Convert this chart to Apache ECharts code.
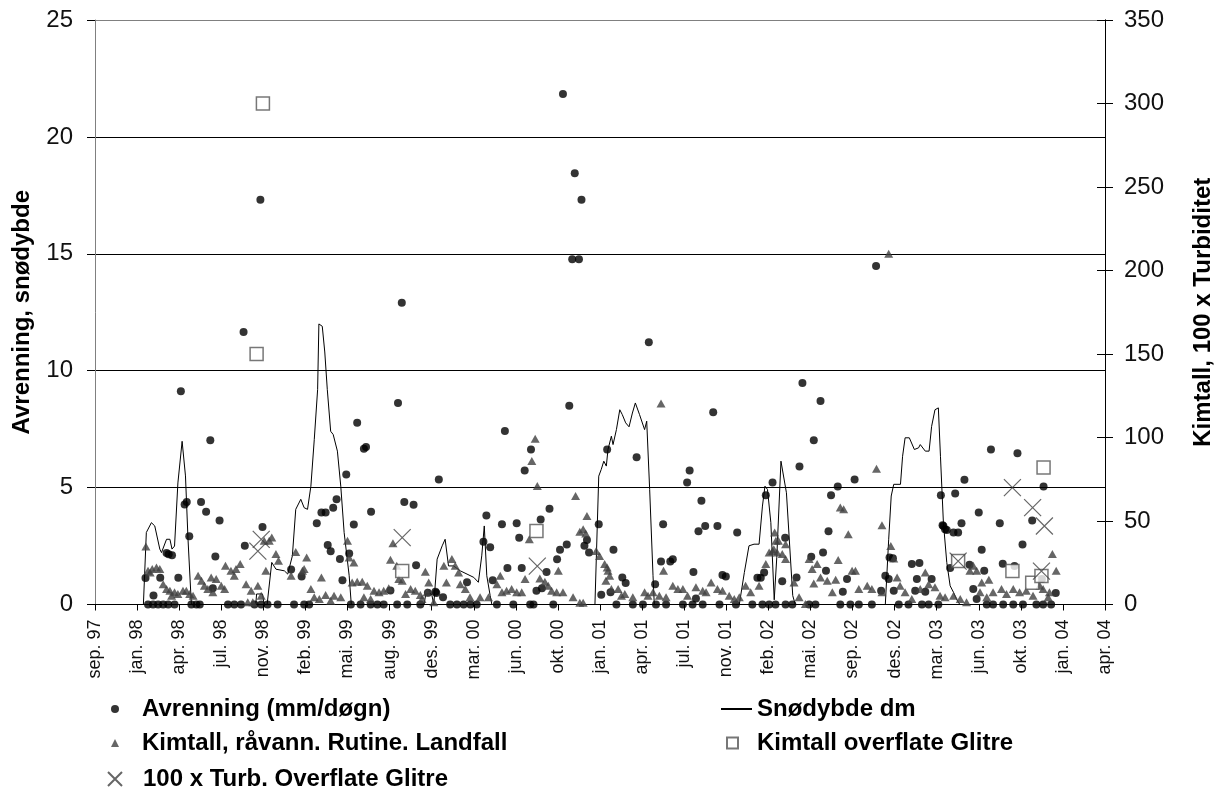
<!DOCTYPE html>
<html>
<head>
<meta charset="utf-8">
<script src="https://cdn.jsdelivr.net/npm/echarts@6/dist/echarts.min.js"></script>
<style>html,body{margin:0;padding:0;background:#fff}#c{width:1223px;height:792px}</style>
</head>
<body>
<div id="c"></div>
<script>
// x values are days since 1997-09-28 (axis start, Excel date axis with 100-day major unit)
const startDate = Date.UTC(1997, 8, 28);
const monthNames = ['jan', 'feb', 'mar', 'apr', 'mai', 'jun', 'jul', 'aug', 'sep', 'okt', 'nov', 'des'];
const xMax = 2400, xStep = 100;
const leftMax = 25, leftStep = 5;
const rightMax = 350, rightStep = 50;

const leftTitle = 'Avrenning, snødybde';
const rightTitle = 'Kimtall, 100 x Turbiditet';
const names = ['Avrenning (mm/døgn)', 'Snødybde dm', 'Kimtall, råvann. Rutine. Landfall', 'Kimtall overflate Glitre', '100 x Turb. Overflate Glitre'];

// Avrenning (mm/døgn) – left axis
const avrenning = [
[120,1.13],[126,0],[138,0],[139,0.38],[150,0],[155,1.14],[162,0],[170,2.2],[174,0],[175,2.15],[183,2.11],[189,0],[198,1.14],[204,9.12],[213,4.28],[218,4.38],[224,2.92],[229,0],[241,0],[249,0],[252,4.38],[264,3.97],[274,7.02],[280,0.7],[286,2.05],[296,3.59],[316,0],[331,0],[347,0],[353,11.66],[356,2.51],[379,0],[393,17.31],[395,0],[398,3.32],[410,0],
[434,0],[466,1.5],[473,0],[491,1.2],[497,0],[509,0],[527,3.47],[538,3.93],[548,3.93],[553,2.54],[560,2.28],[566,4.14],[574,4.5],[582,1.95],[588,1.04],[597,5.56],[604,2.18],[608,0],[615,3.42],[623,7.77],[631,0],[639,6.66],[644,6.74],[655,0],[656,3.97],[671,0],[686,0],[702,0.6],[718,0],[720,8.62],[729,12.91],[735,4.38],[742,0],[757,4.27],[763,1.68],[773,0],[791,0.5],[809,0.55],[817,5.35],
[811,0.49],[827,0.31],[844,0],[860,0],[876,0],[884,0.95],[892,0],[907,0],[923,2.68],[930,3.81],[939,2.45],[945,1.04],[955,0],[967,3.43],[974,7.42],[980,1.56],[994,0],[1002,3.47],[1008,2.85],[1014,1.56],[1021,5.73],[1034,0],[1036,6.63],[1042,0],[1049,0.59],[1059,3.64],[1062,0.7],[1073,1.39],[1080,4.1],[1089,0],[1098,1.94],[1105,2.34],[1112,21.83],[1121,2.57],[1127,8.5],[1134,14.77],[1140,18.44],[1150,14.77],[1156,17.31],[1163,2.51],[1169,2.76],[1174,2.22],[1197,3.43],[1203,0.42],[1217,6.63],
[1225,0.52],[1232,2.34],[1239,0],[1253,1.16],[1261,0.92],[1278,0],[1287,6.3],[1302,0],[1316,11.22],[1331,0.87],[1333,0],[1345,1.84],[1350,3.43],[1357,0],[1367,1.84],[1373,1.94],[1397,0],[1407,5.22],[1413,5.73],[1420,0],[1422,1.39],[1428,0.26],[1434,3.13],[1441,4.44],[1444,0],[1450,3.36],[1469,8.22],[1479,3.36],[1484,0],[1491,1.26],[1499,1.2],[1523,0],[1526,3.08],[1562,0],[1574,1.14],[1582,1.14],[1586,0],[1590,1.37],[1594,4.67],[1602,0],[1610,5.22],
[1617,0],[1633,0.99],[1640,2.86],[1641,0],[1657,0],[1667,1.16],[1674,5.9],[1681,9.47],[1697,0],[1702,2.04],[1708,7.02],[1712,0],[1724,8.7],[1730,2.22],[1737,1.44],[1743,3.13],[1749,4.67],[1765,5.05],[1771,0],[1777,0.55],[1787,1.09],[1795,0],[1805,5.35],[1815,0],[1846,0],[1856,14.48],[1868,0.59],[1878,1.23],[1886,1.09],[1888,2.01],[1896,1.98],[1898,0.59],[1910,0],[1933,0],[1941,1.73],[1949,0.59],[1953,1.09],[1959,1.77],[1965,0],[1973,0.55],[1981,0],[1988,1.09],[2004,0],[2010,4.67],[2014,3.39],[2020,3.22],
[2016,3.36],[2024,3.19],[2032,1.56],[2040,3.08],[2044,4.75],[2051,3.08],[2059,3.47],[2066,5.34],[2078,1.7],[2087,0.66],[2095,0.23],[2100,3.93],[2107,2.34],[2113,1.44],[2119,0],[2129,6.63],[2134,0],[2150,3.47],[2157,1.74],[2158,0],[2182,0],[2185,1.65],[2192,6.47],[2204,2.57],[2205,0],[2227,3.59],[2237,0],[2250,1.09],[2253,0],[2254,5.05],[2272,0],[2283,0.49]
];

// Snødybde dm – left axis
const snodybde = [
[115,0],[122,3.08],[134,3.5],[142,3.36],[154,2.37],[158,2.22],[170,2.79],[178,2.79],[183,2.37],[189,2.5],[197,5.2],[207,6.98],[215,5.5],[221,2.8],[229,0],
[382,0],[384,0.45],[398,0.45],[402,0],
[409,0],[420,1.8],[430,1.51],[450,1.44],[458,1.3],[469,2.08],[477,4.07],[489,4.5],[497,4.14],[505,4.07],[513,5.06],[521,7.05],[529,9.19],[532,12.0],[540,11.9],[546,10.8],[552,9.19],[560,7.41],[566,7.27],[576,6.56],[584,5.06],[592,3.08],[604,1.23],[609,0],
[782,0],[786,0.45],[800,0.45],[805,0],
[809,0],[813,1.94],[825,2.51],[832,2.79],[840,1.65],[852,1.65],[868,1.44],[884,1.3],[900,1.16],[911,0.95],[919,2.08],[925,3.36],[931,1.23],[939,0.38],[943,0],
[1188,0],[1197,5.49],[1203,5.78],[1209,6.13],[1215,5.92],[1219,6.63],[1227,7.2],[1231,6.84],[1239,7.48],[1247,8.33],[1253,8.12],[1261,7.77],[1269,7.6],[1277,8.19],[1284,8.62],[1294,8.12],[1306,7.48],[1311,7.84],[1318,4.92],[1326,1.23],[1329,0],
[1531,0],[1543,1.37],[1554,2.51],[1566,2.58],[1578,2.58],[1586,4.21],[1592,5.06],[1598,4.92],[1606,3.5],[1614,0.2],[1620,2.0],[1630,6.13],[1643,4.78],[1658,0.38],[1664,0],
[1878,0],[1886,2.79],[1892,4.64],[1898,5.14],[1914,5.14],[1919,6.34],[1925,7.13],[1935,7.13],[1947,6.63],[1957,6.7],[1961,6.84],[1973,6.56],[1982,6.56],[1988,7.62],[1996,8.33],[2004,8.41],[2006,8.41],[2009,6.34],[2016,3.5],[2024,1.8],[2032,0.8],[2040,0.52],[2047,0.23],[2055,0]
];

// Kimtall, råvann. Rutine. Landfall – right axis
const kimtallRutine = [
[121,34.8],[126,20.2],[131,19.2],[136,21.2],[146,22.2],[154,21.2],[162,12.2],[170,9.3],[178,8.2],[182,5.3],[189,7.3],[197,6.3],[209,8.2],[217,8.2],[225,6.3],[233,5.3],[245,17.2],[253,14.2],[260,11.2],[268,9.3],[276,16.2],[280,7.3],[288,15.2],[300,11.2],[308,9.3],[310,23.2],[323,20.2],[331,17.2],[335,21.2],[345,24.2],[359,12.2],[363,1.3],[371,8.2],[375,1.3],[387,11.2],[395,5.3],[402,38.1],[406,20.2],
[414,38.1],[420,40.1],[430,30.2],[436,26.2],[466,17.2],[477,31.5],[493,20.2],[497,21.2],[503,28.2],[513,9.3],[521,4.3],[533,3.3],[538,16.2],[548,5.7],[560,2.3],[568,5.3],[584,4.3],[600,38.1],[604,28.2],[611,13.2],[615,25.2],[623,13.6],[635,13.6],[639,4.3],[647,11.2],[655,3.3],[663,8.2],[675,7.3],[686,8.2],[698,9.7],[702,26.8],[708,36.7],[717,23.2],[722,15.2],[730,14.2],[738,6.3],[750,9.3],[761,8.2],[773,5.7],[777,3.3],[785,19.6],[789,7.3],[793,13.2],[805,1.3],
[829,23.2],[835,13.2],[848,27.2],[856,23.2],[864,19.2],[868,12.2],[880,9.3],[891,4.3],[915,4.3],[935,4.3],[955,12.2],[963,17.2],[967,7.3],[978,8.2],[990,9.3],[1002,7.3],[1014,7.3],[1022,15.2],[1032,39.1],[1038,85.9],[1046,99.3],[1051,71.0],[1057,15.6],[1069,13.6],[1077,11.2],[1085,8.2],[1097,7.3],[1101,20.2],[1112,7.3],[1136,4.3],[1142,65.0],[1152,43.5],[1160,45.1],[1166,42.5],[1169,53.0],[1152,1],[1160,1],[1191,32.1],[1199,29.1],[1211,24.2],[1219,20.2],
[1214,14.2],[1217,22.2],[1223,17.2],[1227,9.3],[1243,9.3],[1251,5.3],[1259,6.3],[1278,4.3],[1306,7.3],[1314,5.3],[1326,7.3],[1341,5.3],[1345,120.3],[1351,20.2],[1357,4.3],[1373,11.2],[1385,9.3],[1397,9.3],[1408,5.3],[1428,10.3],[1444,8.2],[1452,7.3],[1464,13.2],[1479,9.3],[1491,8.2],[1507,5.3],[1519,3.3],[1531,4.3],[1546,11.2],[1558,7.3],[1578,11.2],[1594,24.2],[1602,31.2],[1610,32.1],[1615,43.1],
[1618,38.1],[1613,33.1],[1621,31.2],[1624,38.1],[1633,30.2],[1641,36.1],[1641,27.2],[1661,13.2],[1673,4.3],[1688,0.3],[1697,27.2],[1704,21.2],[1708,12.6],[1716,24.2],[1724,16.2],[1740,14.2],[1752,7.3],[1760,14.8],[1766,26.6],[1771,58.1],[1779,57.0],[1790,42.1],[1799,20.2],[1807,20.2],[1815,9.3],[1835,11.2],[1846,9.3],[1857,81.3],[1870,47.5],[1870,7.3],[1886,210],[1891,35.1],[1898,27.6],[1906,16.2],[1913,11.2],[1925,7.3],[1941,3.3],[1961,9.3],[1973,19.2],[1981,12.2],[1996,10.3],[2008,5.3],
[2020,4.3],[2040,5.3],[2056,3.3],[2071,1.3],[2079,20.2],[2087,23.2],[2095,20.2],[2103,7.3],[2107,13.2],[2119,4.3],[2124,14.8],[2134,7.3],[2154,9.3],[2166,6.3],[2182,9.3],[2197,7.3],[2213,8.2],[2229,5.3],[2245,11.2],[2253,9.3],[2265,4.3],[2268,7.3],[2275,30.2],[2284,20.2]
];

// Kimtall overflate Glitre – right axis
const kimtallGlitre = [[384,150],[399,300],[730,20],[1049,44],[2051,26],[2180,20],[2227,13],[2249,17],[2254,82]];

// 100 x Turb. Overflate Glitre – right axis
const turbGlitre = [[387,32],[395,39],[730,40],[1051,23],[2051,26],[2180,70],[2228,58],[2249,20],[2256,47]];

const FONT = 'Arial, "Liberation Sans", sans-serif';
const xPath = 'path://M0,0L10,10M10,0L0,10';

function dayLabel(v) {
  const d = new Date(startDate + v * 86400000);
  const yy = String(d.getUTCFullYear() % 100).padStart(2, '0');
  return monthNames[d.getUTCMonth()] + '. ' + yy;
}

const chart = echarts.init(document.getElementById('c'), null, { renderer: 'canvas' });

function legendAt(name, left, top, iconW, iconH, pad) {
  return {
    data: [name], left: left, top: top, orient: 'horizontal',
    itemWidth: iconW, itemHeight: iconH, padding: 0, selectedMode: false,
    textStyle: { fontFamily: FONT, fontSize: 24, fontWeight: 'bold', color: '#000', padding: [0, 0, 0, pad] }
  };
}

chart.setOption({
  animation: false,
  backgroundColor: '#fff',
  grid: { left: 95, top: 20, width: 1014, height: 584.5, containLabel: false },
  legend: [
    legendAt(names[0], 111, 697, 8, 8, 18),
    legendAt(names[1], 720, 697, 31, 2, 0),
    legendAt(names[2], 111, 731, 8, 8, 18),
    legendAt(names[3], 726, 731, 11, 11, 14),
    legendAt(names[4], 107, 767, 14, 14, 16)
  ],
  xAxis: {
    type: 'value', min: 0, max: xMax, interval: xStep,
    axisLine: { show: true, onZero: false, lineStyle: { color: '#000', width: 1 } },
    axisTick: { show: true, inside: false, length: 6, lineStyle: { color: '#000' } },
    splitLine: { show: false },
    axisLabel: { rotate: 90, margin: 15, fontFamily: FONT, fontSize: 18, color: '#111', formatter: dayLabel }
  },
  yAxis: [
    {
      type: 'value', min: 0, max: leftMax, interval: leftStep, position: 'left',
      name: leftTitle, nameLocation: 'middle', nameRotate: 90, nameGap: 61,
      nameTextStyle: { fontFamily: FONT, fontSize: 24, fontWeight: 'bold', color: '#000' },
      axisLine: { show: true, lineStyle: { color: '#808080', width: 1 } },
      axisTick: { show: true, length: 8, lineStyle: { color: '#000' } },
      splitLine: { show: true, lineStyle: { color: ['#000', '#000', '#000', '#000', '#000', '#808080'], width: 1 } },
      axisLabel: { margin: 22, fontFamily: FONT, fontSize: 24, color: '#111' }
    },
    {
      type: 'value', min: 0, max: rightMax, interval: rightStep, position: 'right',
      name: rightTitle, nameLocation: 'middle', nameRotate: 90, nameGap: 86,
      nameTextStyle: { fontFamily: FONT, fontSize: 24, fontWeight: 'bold', color: '#000' },
      axisLine: { show: true, lineStyle: { color: '#000', width: 1 } },
      axisTick: { show: true, length: 8, lineStyle: { color: '#000' } },
      splitLine: { show: false },
      axisLabel: { margin: 19, fontFamily: FONT, fontSize: 24, color: '#111' }
    },
    {
      type: 'value', min: 0, max: rightMax, interval: rightStep, position: 'right',
      axisLine: { show: true, lineStyle: { color: '#000', width: 1 } },
      axisTick: { show: true, inside: true, length: 8, lineStyle: { color: '#000' } },
      splitLine: { show: false },
      axisLabel: { show: false }
    }
  ],
  series: [
    {
      name: names[0], type: 'scatter', yAxisIndex: 0, data: avrenning,
      symbol: 'circle', symbolSize: 8, itemStyle: { color: '#000' }, z: 3
    },
    {
      name: names[1], type: 'line', yAxisIndex: 0, data: snodybde,
      symbol: 'none', showSymbol: false, lineStyle: { color: '#000', width: 1 }, itemStyle: { color: '#000' }, z: 2
    },
    {
      name: names[2], type: 'scatter', yAxisIndex: 1, data: kimtallRutine,
      symbol: 'triangle', symbolSize: [9, 8], itemStyle: { color: '#404040' }, z: 4
    },
    {
      name: names[3], type: 'scatter', yAxisIndex: 1, data: kimtallGlitre,
      symbol: 'rect', symbolSize: 13, itemStyle: { color: '#fff', borderColor: '#555', borderWidth: 1.5 }, z: 5
    },
    {
      name: names[4], type: 'scatter', yAxisIndex: 1, data: turbGlitre,
      symbol: xPath, symbolSize: 17, itemStyle: { color: 'rgba(0,0,0,0)', borderColor: '#404040', borderWidth: 1.2 }, z: 6
    }
  ]
});
</script>
</body>
</html>
